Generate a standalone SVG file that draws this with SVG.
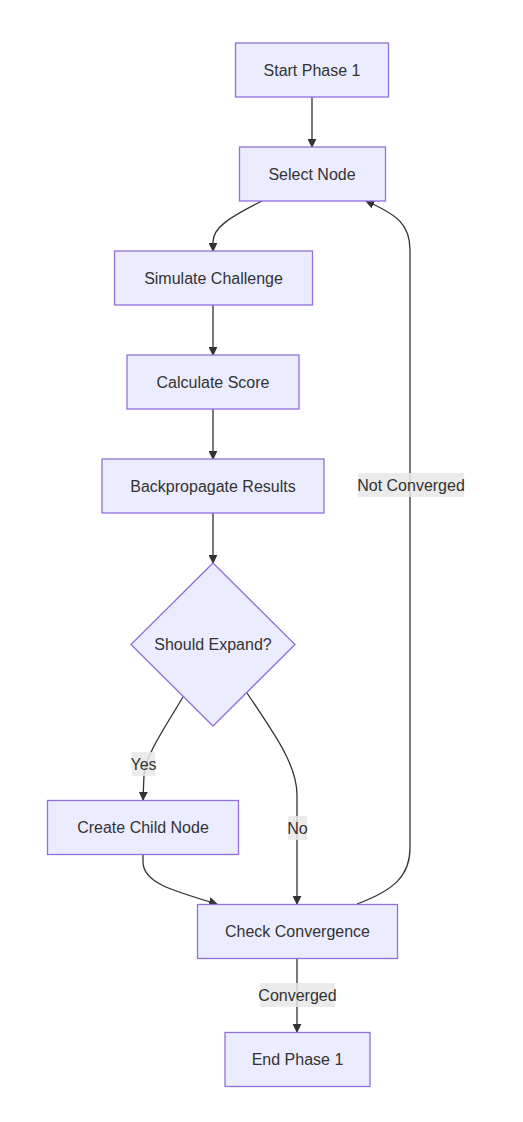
<svg xmlns="http://www.w3.org/2000/svg" width="523" height="1122" viewBox="0 0 523 1122">
<style>
.node rect, .node polygon { fill: #ECECFF; stroke: #9370DB; stroke-width: 1.3; }
.node text { font-family: "Liberation Sans", Arial, sans-serif; font-size: 16px; fill: #333333; text-anchor: middle; }
.edge { fill: none; stroke: #333333; stroke-width: 1.3; }
.lbl rect { fill: #e8e8e8; fill-opacity: 0.85; }
.lbl text { font-family: "Liberation Sans", Arial, sans-serif; font-size: 16px; fill: #333333; text-anchor: middle; }
</style>
<defs>
<marker id="arrow" viewBox="0 0 10 10" refX="9" refY="5" markerWidth="9" markerHeight="9" markerUnits="userSpaceOnUse" orient="auto">
<path d="M0,0 L10,5 L0,10 z" fill="#333333"/>
</marker>
</defs>
<rect width="523" height="1122" fill="#ffffff"/>
<g id="connectors">
<path class="edge" marker-end="url(#arrow)" d="M312,97 L312,147"/>
<path class="edge" marker-end="url(#arrow)" d="M262,201 C228,218 213,228 213,242 L213,251"/>
<path class="edge" marker-end="url(#arrow)" d="M213,305 L213,355"/>
<path class="edge" marker-end="url(#arrow)" d="M213,409 L213,459"/>
<path class="edge" marker-end="url(#arrow)" d="M213,513 L213,563"/>
<path class="edge" marker-end="url(#arrow)" d="M183,697 C162,732 146,755 144,775 L143,800"/>
<path class="edge" marker-end="url(#arrow)" d="M247,693 C275,735 297,765 297,795 L297,904"/>
<path class="edge" marker-end="url(#arrow)" d="M143,854 L143,862 C143,882 170,890 217,904"/>
<path class="edge" marker-end="url(#arrow)" d="M357,904 C395,890 410,875 410,848 L410,250 C410,225 398,215 366,201"/>
<path class="edge" marker-end="url(#arrow)" d="M297,958 L297,1032"/>
<g class="lbl"><rect x="132" y="752" width="23" height="24"/><text x="143.5" y="769.5">Yes</text></g>
<g class="lbl"><rect x="288" y="816" width="19" height="24"/><text x="297.5" y="833.5">No</text></g>
<g class="lbl"><rect x="358" y="473" width="106" height="24"/><text x="411" y="490.5">Not Converged</text></g>
<g class="lbl"><rect x="260" y="983" width="75" height="24"/><text x="297.5" y="1000.5">Converged</text></g>
</g>
<g id="start" class="node"><rect x="235.5" y="43" width="153" height="54"/><text x="312" y="75.5">Start Phase 1</text></g>
<g id="select" class="node"><rect x="239.5" y="147" width="146" height="54"/><text x="312" y="179.5">Select Node</text></g>
<g id="simulate" class="node"><rect x="114.5" y="251" width="198" height="54"/><text x="213.5" y="283.5">Simulate Challenge</text></g>
<g id="calculate" class="node"><rect x="127" y="355" width="172" height="54"/><text x="213" y="387.5">Calculate Score</text></g>
<g id="backprop" class="node"><rect x="102" y="459" width="222" height="54"/><text x="213" y="491.5">Backpropagate Results</text></g>
<g id="expand" class="node"><polygon points="213,563 295,644.5 213,726 131,644.5"/><text x="213" y="650">Should Expand?</text></g>
<g id="child" class="node"><rect x="47.5" y="800.5" width="191" height="54"/><text x="143" y="833">Create Child Node</text></g>
<g id="converge" class="node"><rect x="197.5" y="904.5" width="200" height="54"/><text x="297.5" y="937">Check Convergence</text></g>
<g id="end" class="node"><rect x="225" y="1032.5" width="145" height="54"/><text x="297.5" y="1065">End Phase 1</text></g>
</svg>
